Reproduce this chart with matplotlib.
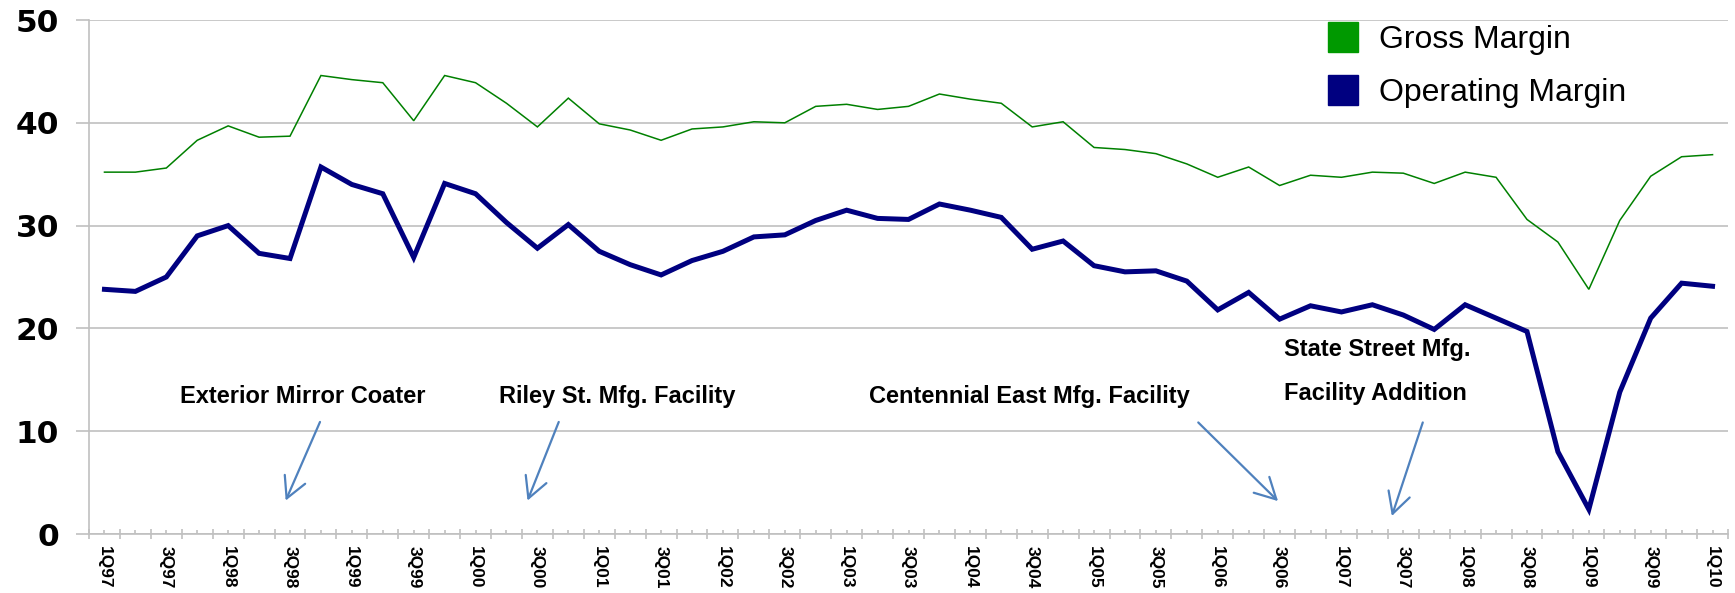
import matplotlib
matplotlib.use("Agg")
import matplotlib.pyplot as plt
from matplotlib.lines import Line2D
import numpy as np

# quarterly margins, 1Q97 .. 1Q10
gross_margin = [35.2, 35.2, 35.6, 38.3, 39.7, 38.6, 38.7, 44.6, 44.2, 43.9,
                40.2, 44.6, 43.9, 41.9, 39.6, 42.4, 39.9, 39.3, 38.3, 39.4,
                39.6, 40.1, 40.0, 41.6, 41.8, 41.3, 41.6, 42.8, 42.3, 41.9,
                39.6, 40.1, 37.6, 37.4, 37.0, 36.0, 34.7, 35.7, 33.9, 34.9,
                34.7, 35.2, 35.1, 34.1, 35.2, 34.7, 30.6, 28.4, 23.8, 30.5,
                34.8, 36.7, 36.9]
operating_margin = [23.8, 23.6, 25.0, 29.0, 30.0, 27.3, 26.8, 35.7, 34.0, 33.1,
                    26.9, 34.1, 33.1, 30.3, 27.8, 30.1, 27.5, 26.2, 25.2, 26.6,
                    27.5, 28.9, 29.1, 30.5, 31.5, 30.7, 30.6, 32.1, 31.5, 30.8,
                    27.7, 28.5, 26.1, 25.5, 25.6, 24.6, 21.8, 23.5, 20.9, 22.2,
                    21.6, 22.3, 21.3, 19.9, 22.3, 21.0, 19.7, 8.0, 2.4, 13.8,
                    21.0, 24.4, 24.1]
tick_labels = ["1Q97", "3Q97", "1Q98", "3Q98", "1Q99", "3Q99", "1Q00", "3Q00",
               "1Q01", "3Q01", "1Q02", "3Q02", "1Q03", "3Q03", "1Q04", "3Q04",
               "1Q05", "3Q05", "1Q06", "3Q06", "1Q07", "3Q07", "1Q08", "3Q08",
               "1Q09", "3Q09", "1Q10"]

# (label, text position, arrow start, arrow end) in data units
notes = [
    ("Exterior Mirror Coater", (6.42, 13.4), (6.97, 10.9), (5.86, 3.25)),
    ("Riley St. Mfg. Facility", (16.57, 13.4), (14.69, 10.9), (13.68, 3.25)),
    ("Centennial East Mfg. Facility", (29.9, 13.4), (35.37, 10.85), (37.95, 3.2)),
]

GRID = "#c0c0c0"
n = len(gross_margin)
x = np.arange(n)

fig = plt.figure(figsize=(17.35, 5.93), dpi=100)
ax = fig.add_axes([89 / 1735, 1 - 534 / 593, 1639 / 1735, 514 / 593])

ax.plot(x, gross_margin, color="#008000", lw=1.1, solid_joinstyle="miter")
ax.plot(x, operating_margin, color="#000080", lw=3.6, solid_joinstyle="miter")

ax.set_xlim(-0.5, n - 0.5)
ax.set_ylim(0, 50)
ax.set_yticks(range(0, 51, 10))
ax.yaxis.grid(True, color=GRID, lw=1.2)
ax.set_axisbelow(True)

for s in ["top", "right"]:
    ax.spines[s].set_visible(False)
for s in ["left", "bottom"]:
    ax.spines[s].set_color(GRID)
    ax.spines[s].set_linewidth(1.2)

ax.tick_params(axis="y", color=GRID, length=9.5, width=1.2, pad=12,
               labelsize=22.5)
for t in ax.get_yticklabels():
    t.set_fontweight("bold")
    t.set_family("DejaVu Sans")

# boundaries as major ticks, category centres as minor ticks with labels
ax.set_xticks(np.arange(-0.5, n, 1.0))
ax.set_xticklabels([])
ax.set_xticks(x, minor=True)
minor_labels = [""] * n
for i, lab in enumerate(tick_labels):
    minor_labels[2 * i] = lab
ax.set_xticklabels(minor_labels, minor=True, rotation=270, ha="center",
                   va="top", fontsize=12.5, fontweight="bold",
                   family="Liberation Sans")
ax.tick_params(axis="x", which="major", direction="inout", length=7,
               width=1.2, color=GRID)
ax.tick_params(axis="x", which="minor", direction="in", length=3,
               width=1.2, color=GRID, pad=9)

arrow = dict(arrowstyle="->,head_length=0.75,head_width=0.4", color="#4f81bd",
             lw=1.6, shrinkA=0, shrinkB=0, mutation_scale=20)
for label, tpos, start, end in notes:
    ax.text(tpos[0], tpos[1], label, ha="center", va="center", fontsize=17,
            fontweight="bold", family="Liberation Sans")
    ax.annotate("", xy=end, xytext=start, arrowprops=arrow)

ax.text(38.13, 17.9, "State Street Mfg.", ha="left", va="center",
        fontsize=17, fontweight="bold", family="Liberation Sans")
ax.text(38.13, 13.7, "Facility Addition", ha="left", va="center",
        fontsize=17, fontweight="bold", family="Liberation Sans")
ax.annotate("", xy=(41.63, 1.75), xytext=(42.63, 10.85), arrowprops=arrow)

handles = [Line2D([], [], ls="none", marker="s", markersize=22,
                  color="#009900", label="Gross Margin"),
           Line2D([], [], ls="none", marker="s", markersize=22,
                  color="#000080", label="Operating Margin")]
fig.legend(handles=handles, loc="upper left",
           bbox_to_anchor=(1327 / 1735, 1 - 25 / 593), frameon=False,
           prop={"family": "Liberation Sans", "size": 23}, borderpad=0,
           borderaxespad=0, handlelength=1.0, handletextpad=0.62,
           labelspacing=0.72)

fig.savefig("out.png", dpi=100)
